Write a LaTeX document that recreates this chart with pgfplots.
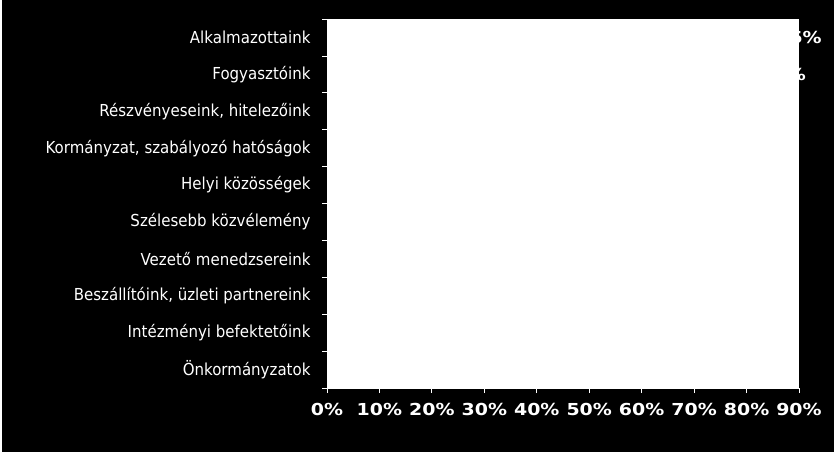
\documentclass[border=0pt]{standalone}
\usepackage{fontspec}
\setmainfont{DejaVu Sans}
\newfontfamily\catfont{DejaVu Sans}[FakeStretch=0.91]
\newfontfamily\numfont{DejaVu Sans}[FakeStretch=1.15]
\usepackage{pgfplots}
\pgfplotsset{compat=1.18}

\begin{document}
\begin{tikzpicture}[x=1pt,y=1pt]
\useasboundingbox (0,0) rectangle (834,-451);
\fill[black] (-3,3) rectangle (837,-454);
% thin white edge on the left side
\draw[white, line width=2pt] (1,-454) -- (1,3);
\begin{axis}[
    at={(327pt,-19pt)}, anchor=north west,
    scale only axis, width=472pt, height=369pt,
    xbar, bar width=0.55,
    xmin=0, xmax=90, ymin=-0.5, ymax=9.5, y dir=reverse,
    clip=false,
    /pgf/number format/assume math mode=true,
    axis background/.style={fill=white},
    axis x line*=bottom, axis y line*=left,
    axis line style={white, line width=0.8pt},
    tick align=outside, major tick length=5pt,
    tick style={white, line width=0.8pt},
    xtick={0,10,...,90},
    xticklabels={0\%,10\%,20\%,30\%,40\%,50\%,60\%,70\%,80\%,90\%},
    xticklabel style={text=white, font=\numfont\bfseries\fontsize{16.5}{18}\selectfont, yshift=-7pt},
    ytick={-0.5,0.5,...,9.5},
    y tick label as interval,
    yticklabels={Alkalmazottaink, Fogyasztóink, {Részvényeseink, hitelezőink},
        {Kormányzat, szabályozó hatóságok}, Helyi közösségek, Szélesebb közvélemény,
        Vezető menedzsereink, {Beszállítóink, üzleti partnereink},
        Intézményi befektetőink, Önkormányzatok},
    yticklabel style={text=white, font=\catfont\fontsize{16.5}{18}\selectfont, xshift=-8pt},
]
\addplot[fill=white, draw=white, point meta=x,
    nodes near coords={\pgfmathprintnumber{\pgfplotspointmeta}\%},
    nodes near coords style={text=white, font=\numfont\bfseries\fontsize{16.5}{18}\selectfont, anchor=west}]
    coordinates {(85,0) (82,1) (70,2) (62,3) (58,4) (50,5) (45,6) (42,7) (30,8) (20,9)};
\end{axis}
\end{tikzpicture}
\end{document}
